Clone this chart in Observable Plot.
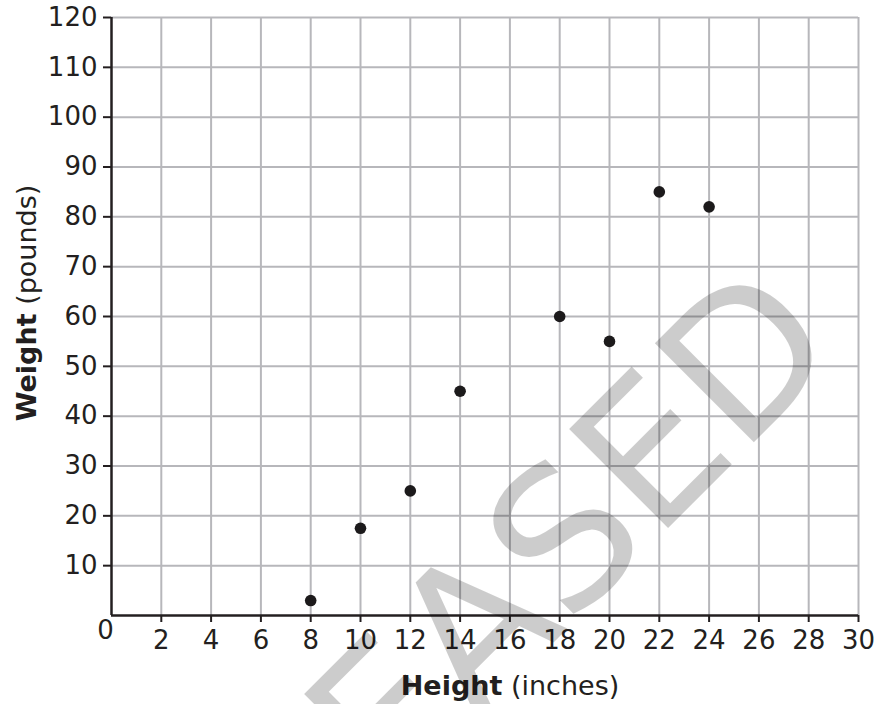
<!DOCTYPE html>
<html><head><meta charset="utf-8">
<script src="https://cdn.jsdelivr.net/npm/d3@7"></script>
<script src="https://cdn.jsdelivr.net/npm/@observablehq/plot@0.6"></script>
<style>body{margin:0;background:#fff} svg{display:block}</style>
</head><body><div id="chart"></div>
<script>
const heights = [8, 10, 12, 14, 18, 20, 22, 24];
const weights = [3, 17.5, 25, 45, 60, 55, 85, 82];
const xTicks = [2, 4, 6, 8, 10, 12, 14, 16, 18, 20, 22, 24, 26, 28, 30];
const yTicks = [10, 20, 30, 40, 50, 60, 70, 80, 90, 100, 110, 120];
const originLabel = [0];
const xTitle = ["Height", " (inches)"];
const yTitle = ["Weight", " (pounds)"];
const watermark = "RELEASED";

const ink = "#231f20";
const gridColor = "#b7b7bb";
const font = "'DejaVu Sans', Verdana, sans-serif";
const points = heights.map((h, i) => ({h, w: weights[i]}));

const chart = Plot.plot({
  width: 880, height: 704,
  marginLeft: 111, marginRight: 22, marginTop: 17, marginBottom: 89,
  style: {fontFamily: font, fontSize: "26px", color: ink, background: "#fff", overflow: "visible"},
  x: {domain: [0, 30]},
  y: {domain: [0, 120]},
  marks: [
    Plot.gridX(xTicks, {stroke: gridColor, strokeOpacity: 1, strokeWidth: 2}),
    Plot.gridY(yTicks, {stroke: gridColor, strokeOpacity: 1, strokeWidth: 2}),
    Plot.axisX(xTicks, {tickSize: 7, tickPadding: 8, label: null, color: ink, strokeWidth: 2, fontSize: 26}),
    Plot.axisY(yTicks, {tickSize: 8, tickPadding: 6, label: null, color: ink, strokeWidth: 2, fontSize: 26}),
    Plot.ruleY([0], {stroke: ink, strokeWidth: 2.5}),
    Plot.ruleX([0], {stroke: ink, strokeWidth: 2.5}),
    Plot.text(originLabel, {x: d => d, y: d => d, text: d => String(d), dx: -6, dy: 5, lineAnchor: "top", fill: ink, fontSize: 26}),
    Plot.dot(points, {x: "h", y: "w", r: 5.8, fill: "#1c1a1b", stroke: "none"})
  ]
});
document.getElementById("chart").append(chart);

const svg = d3.select(chart);
const xt = svg.append("text")
  .attr("x", 510).attr("y", 695)
  .attr("text-anchor", "middle")
  .attr("font-family", font).attr("font-size", 27).attr("fill", ink);
xt.append("tspan").attr("font-weight", "bold").text(xTitle[0]);
xt.append("tspan").text(xTitle[1]);

const yt = svg.append("text")
  .attr("transform", "translate(36,303) rotate(-90)")
  .attr("text-anchor", "middle")
  .attr("font-family", font).attr("font-size", 27).attr("fill", ink);
yt.append("tspan").attr("font-weight", "bold").text(yTitle[0]);
yt.append("tspan").text(yTitle[1]);

svg.append("text")
  .attr("transform", "translate(845,351) rotate(-45)")
  .attr("text-anchor", "end")
  .attr("font-family", font).attr("font-size", 192)
  .attr("fill", "#000").attr("fill-opacity", 0.2)
  .text(watermark);
</script>
</body></html>
